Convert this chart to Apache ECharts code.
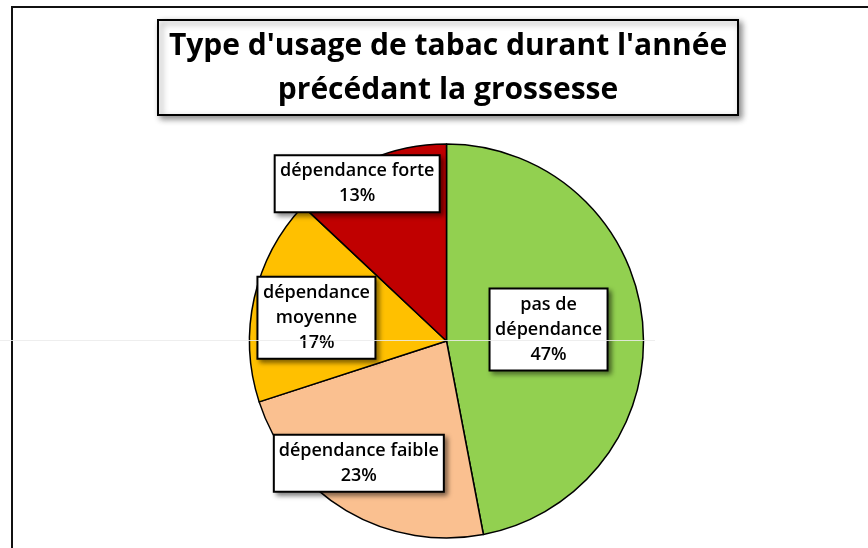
<!DOCTYPE html>
<html>
<head>
<meta charset="utf-8">
<script src="https://cdn.jsdelivr.net/npm/echarts@6/dist/echarts.min.js"></script>
<style>
  html, body { margin: 0; padding: 0; background: #fff; }
  #chart { width: 868px; height: 548px; }
</style>
</head>
<body>
<div id="chart"></div>
<script>
  var titleText = "Type d'usage de tabac durant l'année\nprécédant la grossesse";
  var categories = ['pas de\ndépendance', 'dépendance faible', 'dépendance\nmoyenne', 'dépendance forte'];
  var values = [47, 23, 17, 13];
  var colors = ['#92D050', '#FAC090', '#FFC000', '#C00000'];

  // label boxes: width of the white box + shift from the default inside spot
  var labelBox = [
    {width: 116, dx: 1, dy: -2},
    {width: 168, dx: -36, dy: 35},
    {width: 116, dx: -31, dy: -1},
    {width: 163, dx: -49, dy: -64}
  ];

  var chart = echarts.init(document.getElementById('chart'));

  var seriesData = values.map(function (v, i) {
    return {
      name: categories[i],
      value: v,
      itemStyle: {color: colors[i]},
      label: {width: labelBox[i].width}
    };
  });

  var option = {
    backgroundColor: '#fff',
    animation: false,
    title: {
      text: titleText,
      left: 448,
      top: 20,
      textAlign: 'center',
      padding: [4, 0, 3, 0],
      backgroundColor: '#fff',
      borderColor: '#000',
      borderWidth: 2,
      shadowColor: 'rgba(0,0,0,0.45)',
      shadowBlur: 6,
      shadowOffsetX: 3,
      shadowOffsetY: 3,
      textStyle: {
        fontFamily: 'Open Sans',
        fontWeight: 'bold',
        fontSize: 30,
        lineHeight: 44,
        color: '#000',
        width: 580
      }
    },
    graphic: [
      {type: 'line', shape: {x1: 11, y1: 7, x2: 868, y2: 7}, style: {stroke: '#111', lineWidth: 2}},
      {type: 'line', shape: {x1: 12, y1: 6, x2: 12, y2: 548}, style: {stroke: '#111', lineWidth: 2}},
      {type: 'line', z: 100, shape: {x1: 0, y1: 340.5, x2: 655, y2: 340.5}, style: {stroke: 'rgba(235,235,235,0.85)', lineWidth: 1}}
    ],
    series: [
      {
        name: 'usage',
        type: 'pie',
        center: [446.5, 341],
        radius: 197,
        startAngle: 90,
        clockwise: true,
        itemStyle: {borderColor: '#000', borderWidth: 1.5},
        label: {
          show: true,
          position: 'inside',
          formatter: function (p) {
            return p.name + '\n' + Math.round(p.percent) + '%';
          },
          fontFamily: 'Open Sans',
          fontWeight: 600,
          fontSize: 18,
          lineHeight: 25,
          color: '#000',
          align: 'center',
          backgroundColor: '#fff',
          borderColor: '#000',
          borderWidth: 2,
          padding: [3, 0, 2, 0],
          shadowColor: 'rgba(0,0,0,0.45)',
          shadowBlur: 5,
          shadowOffsetX: 3,
          shadowOffsetY: 3
        },
        labelLine: {show: false},
        labelLayout: function (params) {
          var b = labelBox[params.dataIndex];
          return {dx: b.dx, dy: b.dy};
        },
        data: seriesData
      }
    ]
  };

  chart.setOption(option);
</script>
</body>
</html>
